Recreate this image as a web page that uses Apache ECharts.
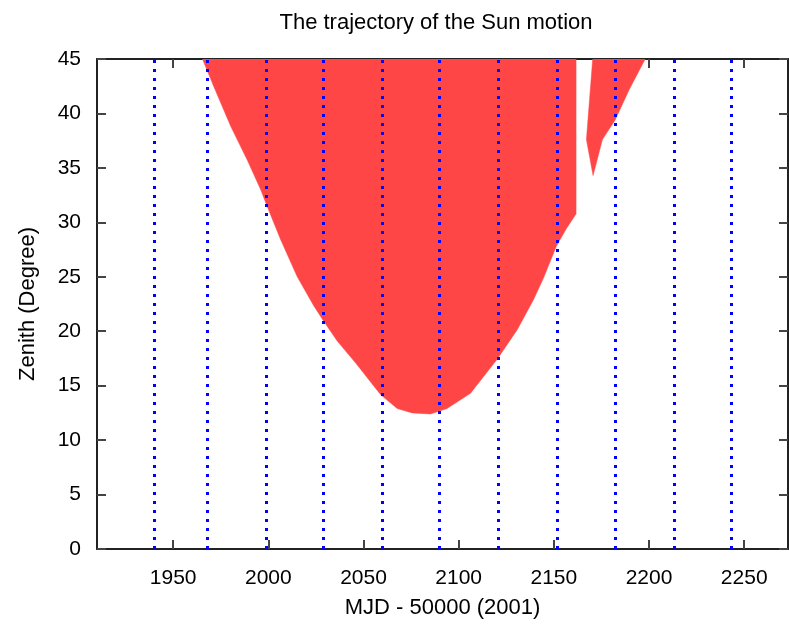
<!DOCTYPE html>
<html><head><meta charset="utf-8">
<script src="https://cdn.jsdelivr.net/npm/echarts@6/dist/echarts.min.js"></script>
<style>html,body{margin:0;padding:0;background:#fff}#c{width:789px;height:625px}</style>
</head><body><div id="c"></div>
<script>
// Lower envelope (daily minimum zenith) of the sun trajectory
const mainDays   = [1965.4, 1971.5, 1980.3, 1989.0, 1996.0, 1999.1, 2006.5, 2015.2, 2024.0, 2029.2, 2032.7, 2036.2, 2045.8, 2058.9, 2067.7, 2075.6, 2085.2, 2093.9, 2106.2, 2120.1, 2130.6, 2139.3, 2144.6, 2151.3, 2156.5, 2161.8];
const mainZenith = [45.0,   42.4,   38.8,   35.7,   33.0,   31.6,   28.4,   25.0,   22.3,   20.9,   20.0,   19.1,   17.1,   14.2,   12.9,   12.5,   12.4,   12.9,   14.3,   17.4,   20.1,   22.9,   24.9,   27.8,   29.4,   30.8];
const notchDays   = [2170.4, 2167.1, 2170.6, 2175.5, 2182.2, 2189.6, 2198.0];
const notchZenith = [45.0,   37.6,   34.3,   37.6,   39.4,   42.2,   45.0];
// month boundaries (dotted blue lines)
const monthLines = [1940, 1968, 1999, 2029, 2060, 2090, 2121, 2152, 2182, 2213, 2243];
const xTickValues = [1950, 2000, 2050, 2100, 2150, 2200, 2250];
const yTickValues = [0, 5, 10, 15, 20, 25, 30, 35, 40, 45];

const toPairs = (xs, ys) => xs.map((x, i) => [x, ys[i]]);
const FONT = 'Liberation Sans';
const fill = '#ff4646';
const axisCol = '#222';

const chart = echarts.init(document.getElementById('c'), null, {renderer: 'canvas'});
const areaSeries = (data) => ({
  type: 'line', data: data, showSymbol: false, symbol: 'none', silent: true,
  smooth: false,
  lineStyle: {width: 0.5, color: fill},
  areaStyle: {color: fill, opacity: 1, origin: 'end'},
  z: 2, animation: false
});
const plain = v => String(v);
chart.setOption({
  animation: false,
  title: {
    text: 'The trajectory of the Sun motion',
    left: 431, top: 7, textAlign: 'center',
    textStyle: {fontFamily: FONT, fontSize: 22, fontWeight: 'normal', color: '#000'}
  },
  grid: {left: 97, top: 59, right: 1, bottom: 76, containLabel: false},
  xAxis: [{
    type: 'value', min: 1910, max: 2273, position: 'bottom',
    name: 'MJD - 50000 (2001)', nameLocation: 'middle', nameGap: 48,
    nameTextStyle: {fontFamily: FONT, fontSize: 22, color: '#000'},
    axisLine: {show: true, onZero: false, lineStyle: {color: axisCol, width: 2}},
    axisTick: {show: true, inside: true, length: 9, customValues: xTickValues, lineStyle: {color: '#444', width: 2}},
    axisLabel: {show: true, customValues: xTickValues, formatter: plain, margin: 19, fontFamily: FONT, fontSize: 21, color: '#000'},
    splitLine: {show: false}
  }, {
    type: 'value', min: 1910, max: 2273, position: 'top',
    axisLine: {show: true, onZero: false, lineStyle: {color: axisCol, width: 2}},
    axisTick: {show: true, inside: true, length: 9, customValues: xTickValues, lineStyle: {color: '#444', width: 2}},
    axisLabel: {show: false},
    splitLine: {show: false}
  }],
  yAxis: [{
    type: 'value', min: 0, max: 45, position: 'left',
    name: 'Zenith (Degree)', nameLocation: 'middle', nameGap: 58,
    nameTextStyle: {fontFamily: FONT, fontSize: 22, color: '#000'},
    axisLine: {show: true, onZero: false, lineStyle: {color: axisCol, width: 2}},
    axisTick: {show: true, inside: true, length: 9, customValues: yTickValues, lineStyle: {color: '#444', width: 2}},
    axisLabel: {show: true, customValues: yTickValues, formatter: plain, margin: 16, fontFamily: FONT, fontSize: 21, color: '#000'},
    splitLine: {show: false}
  }, {
    type: 'value', min: 0, max: 45, position: 'right',
    axisLine: {show: true, onZero: false, lineStyle: {color: axisCol, width: 2}},
    axisTick: {show: true, inside: true, length: 9, customValues: yTickValues, lineStyle: {color: '#444', width: 2}},
    axisLabel: {show: false},
    splitLine: {show: false}
  }],
  series: [
    areaSeries(toPairs(mainDays, mainZenith)),
    areaSeries(toPairs(notchDays, notchZenith)),
    {
      type: 'line', data: [], z: 5, silent: true,
      markLine: {
        silent: true, symbol: ['none', 'none'], label: {show: false}, animation: false,
        lineStyle: {color: '#0000ff', width: 3, type: [3, 6], opacity: 1},
        emphasis: {disabled: true},
        data: monthLines.map(v => ({xAxis: v}))
      }
    }
  ]
});
</script></body></html>
